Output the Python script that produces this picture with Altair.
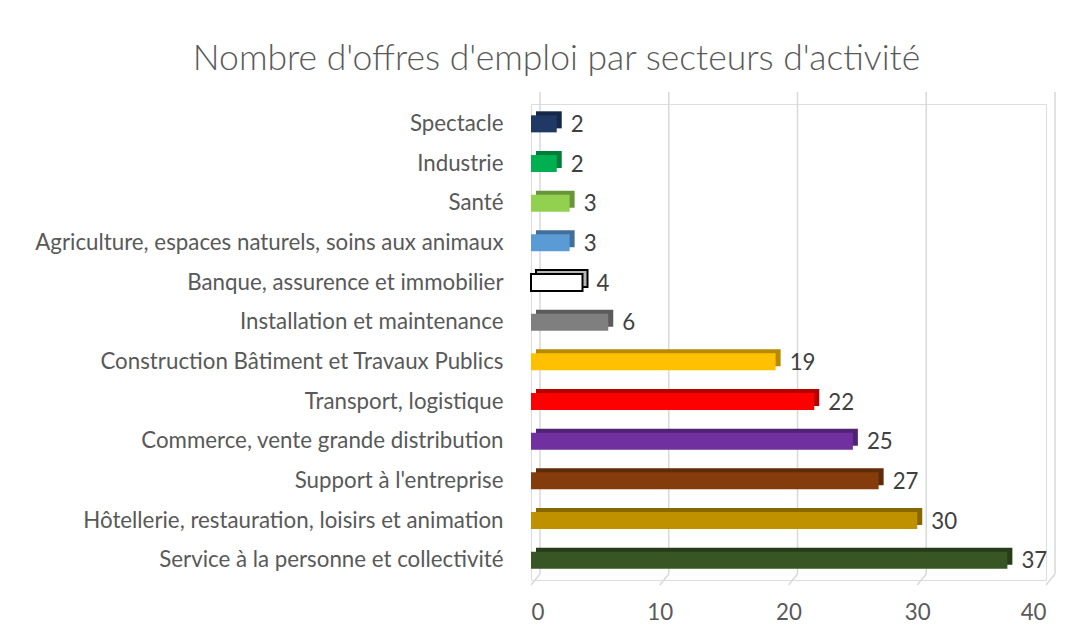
import altair as alt
import pandas as pd

categories = [
    "Spectacle",
    "Industrie",
    "Santé",
    "Agriculture, espaces naturels, soins aux animaux",
    "Banque, assurence et immobilier",
    "Installation et maintenance",
    "Construction Bâtiment et Travaux Publics",
    "Transport, logistique",
    "Commerce, vente grande distribution",
    "Support à l'entreprise",
    "Hôtellerie, restauration, loisirs et animation",
    "Service à la personne et collectivité",
]
values = [2, 2, 3, 3, 4, 6, 19, 22, 25, 27, 30, 37]
colors = ["#1F3864", "#00B050", "#92D050", "#5B9BD5", "#FFFFFF", "#7F7F7F",
          "#FFC000", "#FF0000", "#7030A0", "#843C0C", "#BF9000", "#375623"]
stroke_widths = [0, 0, 0, 0, 2, 0, 0, 0, 0, 0, 0, 0]
ticks = [0, 10, 20, 30, 40]


def darken(h, f=0.72):
    h = h.lstrip("#")
    r, g, b = (int(h[i:i + 2], 16) for i in (0, 2, 4))
    return "#%02X%02X%02X" % (int(r * f), int(g * f), int(b * f))


df = pd.DataFrame({
    "cat": categories,
    "value": values,
    "fill": colors,
    "shade": [darken(c) for c in colors],
    "stroke": ["#000000" if w else c for c, w in zip(colors, stroke_widths)],
    "sw": stroke_widths,
})
grid_df = pd.DataFrame({"t": ticks})

W, H = 515, 476
FONT = "Lato"
TXT = "#595959"
FS = 22.3

y_enc = alt.Y(
    "cat:N", sort=categories,
    scale=alt.Scale(paddingInner=0.57, paddingOuter=0.285),
    axis=alt.Axis(title=None, domain=False, ticks=False, labelPadding=28,
                  labelFontSize=FS, labelFont=FONT, labelColor=TXT, labelLimit=700),
)
x_scale = alt.Scale(domain=[0, 40], nice=False)

grid = alt.Chart(grid_df).mark_rule(color="#D9D9D9", strokeWidth=1.5, xOffset=9).encode(
    x=alt.X("t:Q", scale=x_scale,
            axis=alt.Axis(values=ticks, grid=False, domain=False, ticks=False, title=None,
                          labelPadding=21, labelFontSize=FS, labelFont=FONT,
                          labelColor=TXT)),
    y=alt.value(-12),
    y2=alt.value(H - 6),
)
floor = alt.Chart(grid_df).mark_rule(color="#D9D9D9", strokeWidth=1.5, x2Offset=9).encode(
    x=alt.X("t:Q", scale=x_scale),
    x2="t:Q",
    y=alt.value(H + 5),
    y2=alt.value(H - 6),
)

shade = alt.Chart(df).mark_bar(xOffset=5, yOffset=-4).encode(
    x=alt.X("value:Q", scale=x_scale),
    y=y_enc,
    color=alt.Color("shade:N", scale=None),
    stroke=alt.Stroke("stroke:N", scale=None),
    strokeWidth=alt.StrokeWidth("sw:Q", scale=None),
)
bars = alt.Chart(df).mark_bar().encode(
    x=alt.X("value:Q", scale=x_scale),
    y=y_enc,
    color=alt.Color("fill:N", scale=None),
    stroke=alt.Stroke("stroke:N", scale=None),
    strokeWidth=alt.StrokeWidth("sw:Q", scale=None),
)
labels = alt.Chart(df).mark_text(align="left", baseline="middle", dx=14, dy=1,
                                 fontSize=FS, font=FONT, color="#404040").encode(
    x=alt.X("value:Q", scale=x_scale),
    y=y_enc,
    text="value:Q",
)

chart = alt.layer(grid, floor, shade, bars, labels).properties(
    width=W, height=H,
    title=alt.TitleParams(
        "Nombre d'offres d'emploi par secteurs d'activité",
        fontSize=35.5, font=FONT, fontWeight=300, color=TXT,
        anchor="middle", dx=-232, offset=14, frame="group",
    ),
    autosize=alt.AutoSizeParams(type="none"),
    padding={"left": 523, "top": 96, "right": 35, "bottom": 54},
).configure_view(stroke=None).configure(background="white")

chart.save("out.html", embed_options={"renderer": "svg", "actions": False})
